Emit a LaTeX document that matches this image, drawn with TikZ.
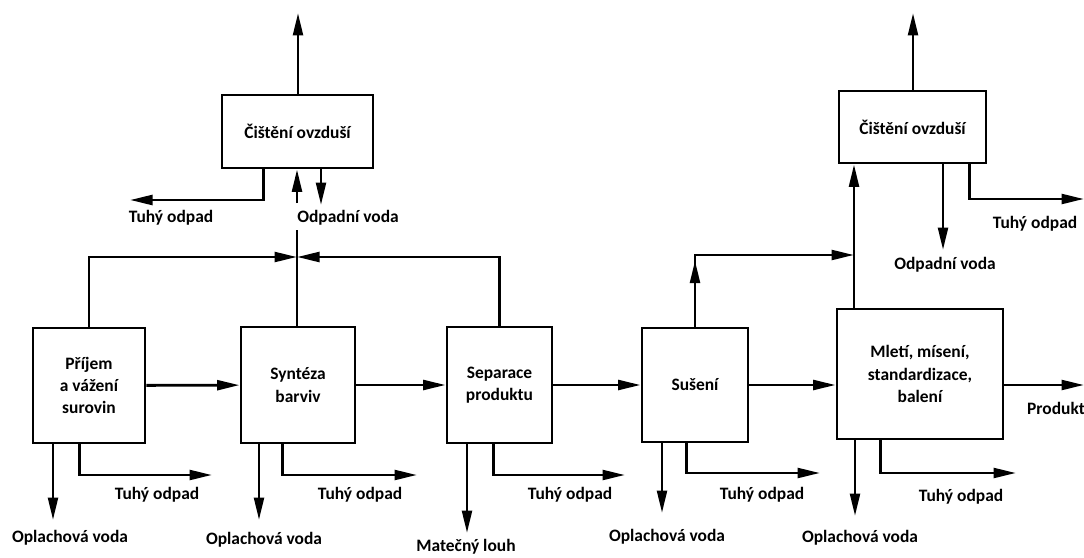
\documentclass[tikz,border=0pt]{standalone}
\usepackage{fontspec}
\setmainfont{Carlito}
\usetikzlibrary{calc,arrows.meta}
\tikzset{
  box/.style={draw, line width=2pt, align=center, inner sep=2pt},
  lbl/.style={inner sep=0pt},
  arr/.style={line width=2pt, -{Triangle[length=16pt,width=7pt]}},
  ln/.style={line width=2pt}
}

\begin{document}
\begin{tikzpicture}[x=0.025cm, y=-0.025cm,
  font=\fontsize{12.4}{15.8}\selectfont\bfseries]
			%%%%% START %%%%%
			\useasboundingbox (0,0) rectangle (1084,558);

			% process boxes
			\node[box, minimum width=2.8cm, minimum height=2.875cm] (b1) at (89,385.5) {Příjem\\a vážení\\surovin};
			\node[box, minimum width=2.85cm, minimum height=2.9cm] (b2) at (298,385) {Syntéza\\barviv};
			\node[box, minimum width=2.625cm, minimum height=2.9cm] (b3) at (499.5,385) {Separace\\produktu};
			\node[box, minimum width=2.65cm, minimum height=2.85cm] (b4) at (695,385) {Sušení};
			\node[box, minimum width=4.15cm, minimum height=3.25cm] (b5) at (920,374) {Mletí, mísení,\\standardizace,\\balení};

			\node[box, minimum width=3.775cm, minimum height=1.825cm] (c1) at (297.5,131.5) {Čištění ovzduší};
			\node[box, minimum width=3.675cm, minimum height=1.8cm] (c2) at (912.5,127) {Čištění ovzduší};

			% main line
			\draw[arr] (b1) -- (b2);
			\draw[arr] (b2) -- (b3);
			\draw[arr] (b3) -- (b4);
			\draw[arr] (b4.east) -- (b4.east -| b5.west);
			\coordinate (p) at (1084,385);
			\draw[arr] (b4.east -| b5.east) -- (p);
			\node[lbl] (pl) at (1056,408) {Produkt};

			% left air cleaning
			\coordinate (j1) at (297,257);
			\coordinate (j1a) at (297,230);
			\coordinate (j1b) at (297,203);
			\draw[arr] (b1.north) |- (j1);
			\draw[arr] (b3.north) |- (j1);
			\draw[ln] (b2.north -| j1) -- (j1a);
			\draw[arr] (j1b) -- (j1b |- c1.south);
			\coordinate (a1) at (298,13);
			\draw[arr] (c1.north -| a1) -- (a1);
			\coordinate (w1) at (321,205);
			\draw[arr] (c1.south -| w1) -- (w1);
			\coordinate (s1) at (130,200);
			\draw[arr] ($(c1.south west)+(43,0)$) |- (s1);
			\node[lbl] (s1l) at (171,218) {Tuhý odpad};
			\node[lbl] (w1l) at (348,218) {Odpadní voda};

			% right air cleaning
			\coordinate (j2) at (854,255);
			\draw[arr] (b4.north) |- (j2);
			\draw[arr] (b4.north) -- ++(0,-66);
			\draw[arr] (b5.north -| j2) -- (c2.south -| j2);
			\coordinate (a2) at (913,13);
			\draw[arr] (c2.north -| a2) -- (a2);
			\coordinate (w2) at (943,250);
			\draw[arr] (c2.south -| w2) -- (w2);
			\coordinate (s2) at (1084,199);
			\draw[arr] ($(c2.south west)+(132,0)$) |- (s2);
			\node[lbl] (w2l) at (945,265) {Odpadní voda};
			\node[lbl] (s2l) at (1035,224) {Tuhý odpad};

			% outputs below
			\coordinate (o1) at (53,520);
			\coordinate (o2) at (259,520);
			\coordinate (o3) at (467,533);
			\coordinate (o4) at (662,513);
			\coordinate (o5) at (855,516);
			\draw[arr] (b1.south -| o1) -- (o1);
			\draw[arr] (b2.south -| o2) -- (o2);
			\draw[arr] (b3.south -| o3) -- (o3);
			\draw[arr] (b4.south -| o4) -- (o4);
			\draw[arr] (b5.south -| o5) -- (o5);

			\coordinate (t1) at (212,475);
			\coordinate (t2) at (417,475);
			\coordinate (t3) at (625,475);
			\coordinate (t4) at (820,473);
			\coordinate (t5) at (1016,473);
			\draw[arr] ($(b1.south west)+(48,0)$) |- (t1);
			\draw[arr] ($(b2.south west)+(43,0)$) |- (t2);
			\draw[arr] ($(b3.south west)+(48,0)$) |- (t3);
			\draw[arr] ($(b4.south west)+(46,0)$) |- (t4);
			\draw[arr] ($(b5.south west)+(45,0)$) |- (t5);

			\node[lbl] (o1l) at (70,538) {Oplachová voda};
			\node[lbl] (o2l) at (264,540) {Oplachová voda};
			\node[lbl] (o3l) at (466,547) {Matečný louh};
			\node[lbl] (o4l) at (667,537) {Oplachová voda};
			\node[lbl] (o5l) at (860,538) {Oplachová voda};

			\node[lbl] (t1l) at (157,495) {Tuhý odpad};
			\node[lbl] (t2l) at (360,495) {Tuhý odpad};
			\node[lbl] (t3l) at (570,495) {Tuhý odpad};
			\node[lbl] (t4l) at (762,495) {Tuhý odpad};
			\node[lbl] (t5l) at (961,497) {Tuhý odpad};
			%%%%% END %%%%%
\end{tikzpicture}
\end{document}
